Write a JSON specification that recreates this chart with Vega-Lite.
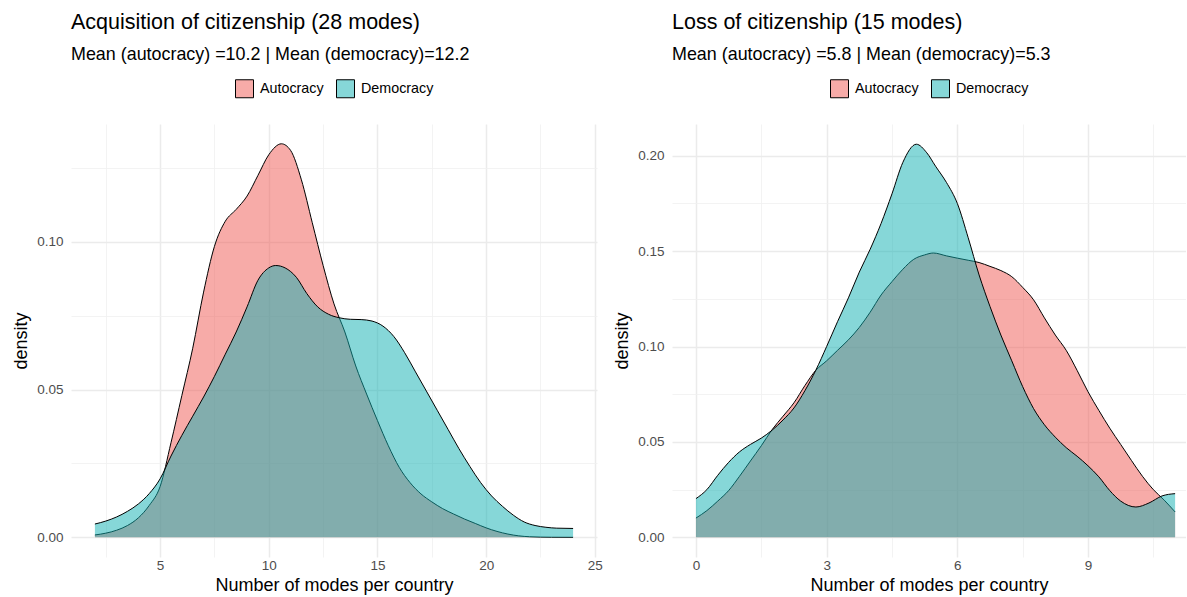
{
  "$schema": "https://vega.github.io/schema/vega-lite/v6.json",
  "background": "white",
  "padding": {"left": 12, "top": 11, "right": 0, "bottom": 0},
  "config": {
    "font": "Liberation Sans",
    "view": {"stroke": null},
    "concat": {"spacing": 75},
    "title": {"anchor": "start", "frame": "group", "fontSize": 21.5, "fontWeight": "normal", "color": "#000000", "subtitleFontSize": 17.9, "subtitleColor": "#000000", "subtitlePadding": 13, "offset": 15},
    "axis": {"labelFontSize": 13.5, "labelColor": "#4D4D4D", "titleFontSize": 18, "titleFontWeight": "normal", "titleColor": "#000000", "domain": false, "ticks": false, "gridColor": "#EBEBEB", "labelFlush": false, "labelOverlap": false},
    "legend": {"orient": "top", "direction": "horizontal", "labelFontSize": 14.3, "labelColor": "#000000", "symbolType": "square", "symbolSize": 324, "symbolStrokeColor": "#000000", "symbolStrokeWidth": 1, "columnPadding": 10, "labelOffset": 6, "offset": 24, "layout": {"top": {"anchor": "middle"}}}
  },
  "datasets": {
    "acq": [
      {"group": "Autocracy", "x": 2.0, "density": 0.0008},
      {"group": "Autocracy", "x": 2.5, "density": 0.0014},
      {"group": "Autocracy", "x": 3.0, "density": 0.0024},
      {"group": "Autocracy", "x": 3.5, "density": 0.0040},
      {"group": "Autocracy", "x": 4.0, "density": 0.0066},
      {"group": "Autocracy", "x": 4.5, "density": 0.0108},
      {"group": "Autocracy", "x": 5.0, "density": 0.0172},
      {"group": "Autocracy", "x": 5.5, "density": 0.032},
      {"group": "Autocracy", "x": 6.0, "density": 0.048},
      {"group": "Autocracy", "x": 6.5, "density": 0.064},
      {"group": "Autocracy", "x": 7.0, "density": 0.083},
      {"group": "Autocracy", "x": 7.5, "density": 0.0985},
      {"group": "Autocracy", "x": 8.0, "density": 0.107},
      {"group": "Autocracy", "x": 8.5, "density": 0.111},
      {"group": "Autocracy", "x": 9.0, "density": 0.1155},
      {"group": "Autocracy", "x": 9.5, "density": 0.1225},
      {"group": "Autocracy", "x": 10.0, "density": 0.1295},
      {"group": "Autocracy", "x": 10.58, "density": 0.1332},
      {"group": "Autocracy", "x": 11.0, "density": 0.131},
      {"group": "Autocracy", "x": 11.5, "density": 0.121},
      {"group": "Autocracy", "x": 12.0, "density": 0.1065},
      {"group": "Autocracy", "x": 12.5, "density": 0.092},
      {"group": "Autocracy", "x": 13.0, "density": 0.079},
      {"group": "Autocracy", "x": 13.5, "density": 0.0695},
      {"group": "Autocracy", "x": 14.0, "density": 0.058},
      {"group": "Autocracy", "x": 14.5, "density": 0.0485},
      {"group": "Autocracy", "x": 15.0, "density": 0.0395},
      {"group": "Autocracy", "x": 15.5, "density": 0.031},
      {"group": "Autocracy", "x": 16.0, "density": 0.0237},
      {"group": "Autocracy", "x": 16.5, "density": 0.0185},
      {"group": "Autocracy", "x": 17.0, "density": 0.0147},
      {"group": "Autocracy", "x": 17.5, "density": 0.0120},
      {"group": "Autocracy", "x": 18.0, "density": 0.0097},
      {"group": "Autocracy", "x": 18.5, "density": 0.0079},
      {"group": "Autocracy", "x": 19.0, "density": 0.0062},
      {"group": "Autocracy", "x": 19.5, "density": 0.0047},
      {"group": "Autocracy", "x": 20.0, "density": 0.0032},
      {"group": "Autocracy", "x": 20.5, "density": 0.0020},
      {"group": "Autocracy", "x": 21.0, "density": 0.0011},
      {"group": "Autocracy", "x": 21.5, "density": 0.0005},
      {"group": "Autocracy", "x": 22.0, "density": 0.0002},
      {"group": "Autocracy", "x": 23.0, "density": 0.00003},
      {"group": "Autocracy", "x": 24.0, "density": 0.0},
      {"group": "Democracy", "x": 2.0, "density": 0.0045},
      {"group": "Democracy", "x": 2.5, "density": 0.0055},
      {"group": "Democracy", "x": 3.0, "density": 0.0069},
      {"group": "Democracy", "x": 3.5, "density": 0.0088},
      {"group": "Democracy", "x": 4.0, "density": 0.0113},
      {"group": "Democracy", "x": 4.5, "density": 0.0148},
      {"group": "Democracy", "x": 5.0, "density": 0.0198},
      {"group": "Democracy", "x": 5.5, "density": 0.0275},
      {"group": "Democracy", "x": 6.0, "density": 0.0345},
      {"group": "Democracy", "x": 6.5, "density": 0.041},
      {"group": "Democracy", "x": 7.0, "density": 0.0475},
      {"group": "Democracy", "x": 7.5, "density": 0.0545},
      {"group": "Democracy", "x": 8.0, "density": 0.062},
      {"group": "Democracy", "x": 8.5, "density": 0.0695},
      {"group": "Democracy", "x": 9.0, "density": 0.078},
      {"group": "Democracy", "x": 9.5, "density": 0.087},
      {"group": "Democracy", "x": 10.0, "density": 0.0912},
      {"group": "Democracy", "x": 10.32, "density": 0.092},
      {"group": "Democracy", "x": 10.75, "density": 0.0912},
      {"group": "Democracy", "x": 11.27, "density": 0.088},
      {"group": "Democracy", "x": 11.75, "density": 0.0825},
      {"group": "Democracy", "x": 12.25, "density": 0.078},
      {"group": "Democracy", "x": 12.75, "density": 0.0755},
      {"group": "Democracy", "x": 13.25, "density": 0.0743},
      {"group": "Democracy", "x": 13.75, "density": 0.0738},
      {"group": "Democracy", "x": 14.25, "density": 0.0737},
      {"group": "Democracy", "x": 14.75, "density": 0.0732},
      {"group": "Democracy", "x": 15.25, "density": 0.0715},
      {"group": "Democracy", "x": 15.75, "density": 0.068},
      {"group": "Democracy", "x": 16.25, "density": 0.0625},
      {"group": "Democracy", "x": 16.75, "density": 0.056},
      {"group": "Democracy", "x": 17.25, "density": 0.0495},
      {"group": "Democracy", "x": 17.75, "density": 0.043},
      {"group": "Democracy", "x": 18.25, "density": 0.0365},
      {"group": "Democracy", "x": 18.75, "density": 0.030},
      {"group": "Democracy", "x": 19.25, "density": 0.024},
      {"group": "Democracy", "x": 19.75, "density": 0.0185},
      {"group": "Democracy", "x": 20.25, "density": 0.014},
      {"group": "Democracy", "x": 20.75, "density": 0.0105},
      {"group": "Democracy", "x": 21.25, "density": 0.0075},
      {"group": "Democracy", "x": 21.75, "density": 0.0052},
      {"group": "Democracy", "x": 22.25, "density": 0.0040},
      {"group": "Democracy", "x": 22.75, "density": 0.0034},
      {"group": "Democracy", "x": 23.25, "density": 0.0031},
      {"group": "Democracy", "x": 24.0, "density": 0.0030}
    ],
    "loss": [
      {"group": "Autocracy", "x": 0.0, "density": 0.0101},
      {"group": "Autocracy", "x": 0.25, "density": 0.014},
      {"group": "Autocracy", "x": 0.5, "density": 0.019},
      {"group": "Autocracy", "x": 0.75, "density": 0.0245},
      {"group": "Autocracy", "x": 1.0, "density": 0.032},
      {"group": "Autocracy", "x": 1.25, "density": 0.040},
      {"group": "Autocracy", "x": 1.5, "density": 0.048},
      {"group": "Autocracy", "x": 1.75, "density": 0.0565},
      {"group": "Autocracy", "x": 2.0, "density": 0.0635},
      {"group": "Autocracy", "x": 2.25, "density": 0.0705},
      {"group": "Autocracy", "x": 2.5, "density": 0.0795},
      {"group": "Autocracy", "x": 2.75, "density": 0.0875},
      {"group": "Autocracy", "x": 3.0, "density": 0.0925},
      {"group": "Autocracy", "x": 3.25, "density": 0.098},
      {"group": "Autocracy", "x": 3.5, "density": 0.1035},
      {"group": "Autocracy", "x": 3.75, "density": 0.110},
      {"group": "Autocracy", "x": 4.0, "density": 0.118},
      {"group": "Autocracy", "x": 4.25, "density": 0.127},
      {"group": "Autocracy", "x": 4.5, "density": 0.134},
      {"group": "Autocracy", "x": 4.75, "density": 0.1405},
      {"group": "Autocracy", "x": 5.0, "density": 0.1457},
      {"group": "Autocracy", "x": 5.25, "density": 0.148},
      {"group": "Autocracy", "x": 5.45, "density": 0.149},
      {"group": "Autocracy", "x": 5.75, "density": 0.1475},
      {"group": "Autocracy", "x": 6.0, "density": 0.1463},
      {"group": "Autocracy", "x": 6.25, "density": 0.1452},
      {"group": "Autocracy", "x": 6.5, "density": 0.1440},
      {"group": "Autocracy", "x": 6.75, "density": 0.142},
      {"group": "Autocracy", "x": 7.0, "density": 0.1398},
      {"group": "Autocracy", "x": 7.25, "density": 0.1366},
      {"group": "Autocracy", "x": 7.5, "density": 0.131},
      {"group": "Autocracy", "x": 7.75, "density": 0.1245},
      {"group": "Autocracy", "x": 8.0, "density": 0.115},
      {"group": "Autocracy", "x": 8.25, "density": 0.106},
      {"group": "Autocracy", "x": 8.5, "density": 0.098},
      {"group": "Autocracy", "x": 8.75, "density": 0.0875},
      {"group": "Autocracy", "x": 9.0, "density": 0.0763},
      {"group": "Autocracy", "x": 9.25, "density": 0.0665},
      {"group": "Autocracy", "x": 9.5, "density": 0.0572},
      {"group": "Autocracy", "x": 9.75, "density": 0.0487},
      {"group": "Autocracy", "x": 10.0, "density": 0.0402},
      {"group": "Autocracy", "x": 10.25, "density": 0.032},
      {"group": "Autocracy", "x": 10.5, "density": 0.025},
      {"group": "Autocracy", "x": 10.75, "density": 0.0195},
      {"group": "Autocracy", "x": 11.0, "density": 0.0133},
      {"group": "Democracy", "x": 0.0, "density": 0.0203},
      {"group": "Democracy", "x": 0.25, "density": 0.025},
      {"group": "Democracy", "x": 0.5, "density": 0.0325},
      {"group": "Democracy", "x": 0.75, "density": 0.0393},
      {"group": "Democracy", "x": 1.0, "density": 0.0448},
      {"group": "Democracy", "x": 1.25, "density": 0.0487},
      {"group": "Democracy", "x": 1.5, "density": 0.052},
      {"group": "Democracy", "x": 1.75, "density": 0.0562},
      {"group": "Democracy", "x": 2.0, "density": 0.0615},
      {"group": "Democracy", "x": 2.25, "density": 0.0678},
      {"group": "Democracy", "x": 2.5, "density": 0.0768},
      {"group": "Democracy", "x": 2.75, "density": 0.0875},
      {"group": "Democracy", "x": 3.0, "density": 0.100},
      {"group": "Democracy", "x": 3.25, "density": 0.113},
      {"group": "Democracy", "x": 3.5, "density": 0.1255},
      {"group": "Democracy", "x": 3.75, "density": 0.139},
      {"group": "Democracy", "x": 4.0, "density": 0.151},
      {"group": "Democracy", "x": 4.25, "density": 0.1645},
      {"group": "Democracy", "x": 4.5, "density": 0.180},
      {"group": "Democracy", "x": 4.75, "density": 0.1965},
      {"group": "Democracy", "x": 5.06, "density": 0.206},
      {"group": "Democracy", "x": 5.3, "density": 0.2015},
      {"group": "Democracy", "x": 5.5, "density": 0.1945},
      {"group": "Democracy", "x": 5.75, "density": 0.186},
      {"group": "Democracy", "x": 6.0, "density": 0.175},
      {"group": "Democracy", "x": 6.25, "density": 0.157},
      {"group": "Democracy", "x": 6.5, "density": 0.1375},
      {"group": "Democracy", "x": 6.75, "density": 0.121},
      {"group": "Democracy", "x": 7.0, "density": 0.106},
      {"group": "Democracy", "x": 7.25, "density": 0.0925},
      {"group": "Democracy", "x": 7.5, "density": 0.079},
      {"group": "Democracy", "x": 7.75, "density": 0.0675},
      {"group": "Democracy", "x": 8.0, "density": 0.059},
      {"group": "Democracy", "x": 8.25, "density": 0.0525},
      {"group": "Democracy", "x": 8.5, "density": 0.047},
      {"group": "Democracy", "x": 8.75, "density": 0.0425},
      {"group": "Democracy", "x": 9.0, "density": 0.0375},
      {"group": "Democracy", "x": 9.25, "density": 0.0317},
      {"group": "Democracy", "x": 9.5, "density": 0.0245},
      {"group": "Democracy", "x": 9.75, "density": 0.019},
      {"group": "Democracy", "x": 10.1, "density": 0.0159},
      {"group": "Democracy", "x": 10.4, "density": 0.018},
      {"group": "Democracy", "x": 10.7, "density": 0.0217},
      {"group": "Democracy", "x": 11.0, "density": 0.0229}
    ]
  },
  "bounds": "flush",
  "resolve": {"legend": {"color": "independent"}, "scale": {"color": "shared"}},
  "hconcat": [
    {
      "width": 526,
      "height": 433,
      "title": {"text": "Acquisition of citizenship (28 modes)", "subtitle": "Mean (autocracy) =10.2 | Mean (democracy)=12.2"},
      "data": {"name": "acq"},
      "encoding": {
        "x": {"field": "x", "type": "quantitative", "scale": {"domain": [0.9, 25.1], "nice": false, "zero": false},
          "axis": {"title": "Number of modes per country", "values": [2.5, 5, 7.5, 10, 12.5, 15, 17.5, 20, 22.5, 25], "labelExpr": "datum.value % 5 === 0 ? datum.label : ''", "gridWidth": {"condition": {"test": "datum.value % 5 === 0", "value": 1.5}, "value": 0.8}, "gridColor": {"condition": {"test": "datum.value % 5 === 0", "value": "#EBEBEB"}, "value": "#F0F0F0"}, "labelPadding": 1, "titlePadding": 5}},
        "y": {"field": "density", "type": "quantitative", "scale": {"domain": [-0.00666, 0.1399], "nice": false, "zero": false},
          "axis": {"title": "density", "values": [0, 0.025, 0.05, 0.075, 0.1, 0.125], "labelExpr": "round(datum.value*1000) % 50 === 0 ? format(datum.value, '.2f') : ''", "gridWidth": {"condition": {"test": "round(datum.value*1000) % 50 === 0", "value": 1.5}, "value": 0.8}, "gridColor": {"condition": {"test": "round(datum.value*1000) % 50 === 0", "value": "#EBEBEB"}, "value": "#F0F0F0"}, "labelPadding": 8, "titlePadding": 6}}
      },
      "layer": [
        {"transform": [{"filter": "datum.group === 'Autocracy'"}], "mark": {"type": "area", "interpolate": "monotone"},
          "encoding": {"y2": {"datum": 0}, "color": {"field": "group", "type": "nominal", "scale": {"domain": ["Autocracy", "Democracy"], "range": ["rgba(239,87,81,0.5)", "rgba(13,176,178,0.5)"]}, "legend": {"title": null}}}},
        {"transform": [{"filter": "datum.group === 'Autocracy'"}], "mark": {"type": "line", "interpolate": "monotone", "color": "#000000", "strokeWidth": 1}, "encoding": {}},
        {"transform": [{"filter": "datum.group === 'Democracy'"}], "mark": {"type": "area", "interpolate": "monotone"},
          "encoding": {"y2": {"datum": 0}, "color": {"field": "group", "type": "nominal", "scale": {"domain": ["Autocracy", "Democracy"], "range": ["rgba(239,87,81,0.5)", "rgba(13,176,178,0.5)"]}, "legend": {"title": null}}}},
        {"transform": [{"filter": "datum.group === 'Democracy'"}], "mark": {"type": "line", "interpolate": "monotone", "color": "#000000", "strokeWidth": 1}, "encoding": {}}
      ]
    },
    {
      "width": 514,
      "height": 433,
      "title": {"text": "Loss of citizenship (15 modes)", "subtitle": "Mean (autocracy) =5.8 | Mean (democracy)=5.3"},
      "data": {"name": "loss"},
      "encoding": {
        "x": {"field": "x", "type": "quantitative", "scale": {"domain": [-0.55, 11.25], "nice": false, "zero": false},
          "axis": {"title": "Number of modes per country", "values": [0, 1.5, 3, 4.5, 6, 7.5, 9, 10.5], "labelExpr": "datum.value % 3 === 0 ? datum.label : ''", "gridWidth": {"condition": {"test": "datum.value % 3 === 0", "value": 1.5}, "value": 0.8}, "gridColor": {"condition": {"test": "datum.value % 3 === 0", "value": "#EBEBEB"}, "value": "#F0F0F0"}, "labelPadding": 1, "titlePadding": 5}},
        "y": {"field": "density", "type": "quantitative", "scale": {"domain": [-0.0103, 0.2166], "nice": false, "zero": false},
          "axis": {"title": "density", "values": [0, 0.025, 0.05, 0.075, 0.1, 0.125, 0.15, 0.175, 0.2], "labelExpr": "round(datum.value*1000) % 50 === 0 ? format(datum.value, '.2f') : ''", "gridWidth": {"condition": {"test": "round(datum.value*1000) % 50 === 0", "value": 1.5}, "value": 0.8}, "gridColor": {"condition": {"test": "round(datum.value*1000) % 50 === 0", "value": "#EBEBEB"}, "value": "#F0F0F0"}, "labelPadding": 8, "titlePadding": 6}}
      },
      "layer": [
        {"transform": [{"filter": "datum.group === 'Autocracy'"}], "mark": {"type": "area", "interpolate": "monotone"},
          "encoding": {"y2": {"datum": 0}, "color": {"field": "group", "type": "nominal", "scale": {"domain": ["Autocracy", "Democracy"], "range": ["rgba(239,87,81,0.5)", "rgba(13,176,178,0.5)"]}, "legend": {"title": null}}}},
        {"transform": [{"filter": "datum.group === 'Autocracy'"}], "mark": {"type": "line", "interpolate": "monotone", "color": "#000000", "strokeWidth": 1}, "encoding": {}},
        {"transform": [{"filter": "datum.group === 'Democracy'"}], "mark": {"type": "area", "interpolate": "monotone"},
          "encoding": {"y2": {"datum": 0}, "color": {"field": "group", "type": "nominal", "scale": {"domain": ["Autocracy", "Democracy"], "range": ["rgba(239,87,81,0.5)", "rgba(13,176,178,0.5)"]}, "legend": {"title": null}}}},
        {"transform": [{"filter": "datum.group === 'Democracy'"}], "mark": {"type": "line", "interpolate": "monotone", "color": "#000000", "strokeWidth": 1}, "encoding": {}}
      ]
    }
  ]
}
